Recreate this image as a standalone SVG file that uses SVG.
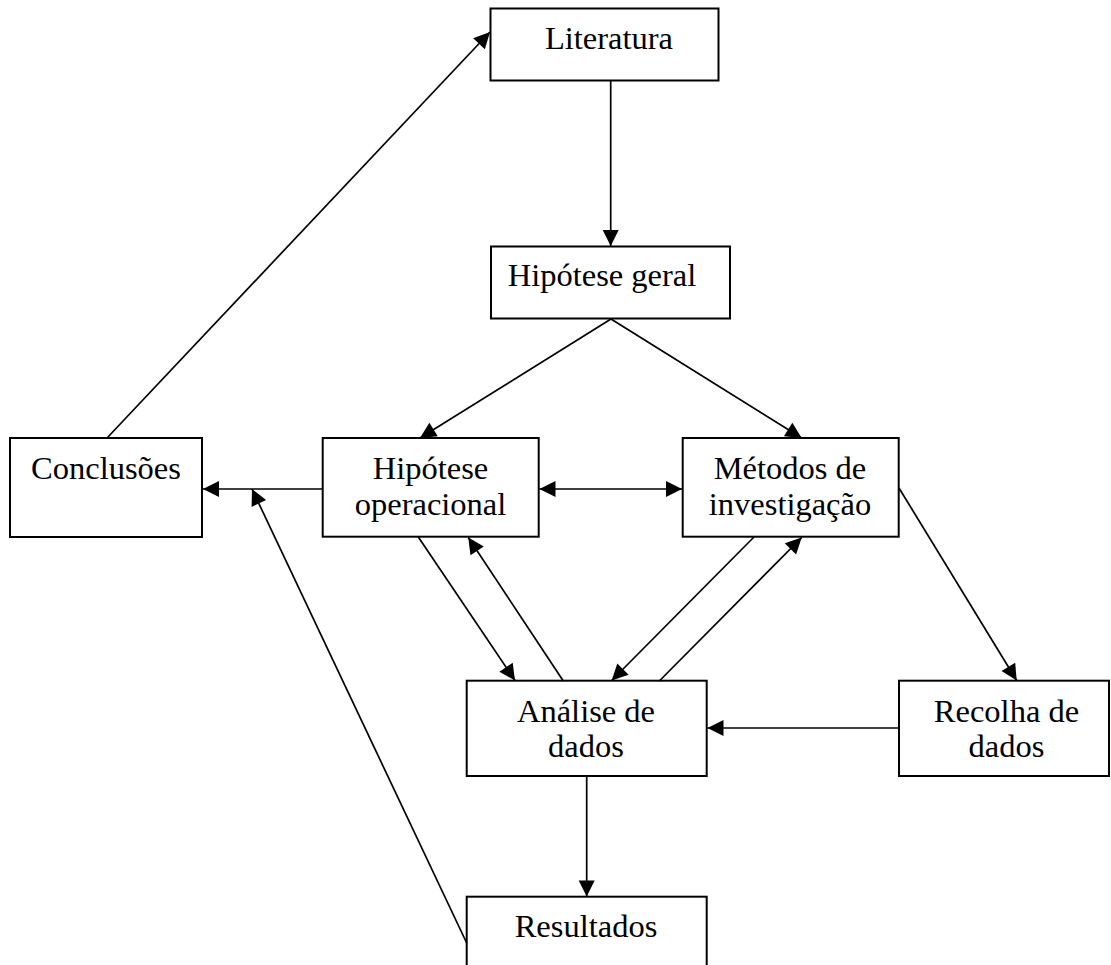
<svg xmlns="http://www.w3.org/2000/svg" width="1111" height="965" viewBox="0 0 1111 965">
<style>
.box{fill:#fff;stroke:#000;stroke-width:2}
.lbl{font-family:"Liberation Serif","Times New Roman",serif;font-size:32.5px;fill:#000;text-anchor:middle}
.c line{stroke:#000;stroke-width:1.7}
.a{marker-end:url(#ah)}
.b{marker-start:url(#ahs);marker-end:url(#ah)}
</style>
<defs>
<marker id="ah" markerUnits="userSpaceOnUse" markerWidth="18" markerHeight="18" refX="16" refY="8" orient="auto" overflow="visible">
<path d="M0,0 L16,8 L0,16 z" fill="#000"/>
</marker>
<marker id="ahs" markerUnits="userSpaceOnUse" markerWidth="18" markerHeight="18" refX="0" refY="8" orient="auto" overflow="visible">
<path d="M16,0 L0,8 L16,16 z" fill="#000"/>
</marker>
</defs>
<rect width="1111" height="965" fill="#fff"/>
<g id="literatura"><rect class="box" x="490.5" y="8.5" width="228" height="72"/><text class="lbl" x="609" y="49">Literatura</text></g>
<g id="hipotese-geral"><rect class="box" x="491" y="246.5" width="239" height="72"/><text class="lbl" x="602" y="286">Hipótese geral</text></g>
<g id="conclusoes"><rect class="box" x="10" y="438" width="192" height="99"/><text class="lbl" x="106" y="479">Conclusões</text></g>
<g id="hipotese-operacional"><rect class="box" x="322.7" y="438" width="216" height="98.7"/><text class="lbl" x="430.5" y="479">Hipótese</text><text class="lbl" x="430.5" y="515">operacional</text></g>
<g id="metodos"><rect class="box" x="682.7" y="438" width="216" height="98.7"/><text class="lbl" x="790" y="479">Métodos de</text><text class="lbl" x="790" y="515">investigação</text></g>
<g id="analise"><rect class="box" x="466.7" y="680.7" width="240" height="95.3"/><text class="lbl" x="586" y="722">Análise de</text><text class="lbl" x="586" y="757">dados</text></g>
<g id="recolha"><rect class="box" x="899" y="680.7" width="210" height="95.3"/><text class="lbl" x="1006.5" y="722">Recolha de</text><text class="lbl" x="1006.5" y="757">dados</text></g>
<g id="resultados"><rect class="box" x="466.7" y="896.7" width="240" height="80"/><text class="lbl" x="586" y="937">Resultados</text></g>
<g class="c" id="connectors">
<line class="a" x1="610.7" y1="80.5" x2="610.7" y2="246"/>
<line class="a" x1="611" y1="319" x2="420" y2="438"/>
<line class="a" x1="611" y1="319" x2="801.7" y2="438"/>
<line class="b" x1="539.5" y1="489" x2="682" y2="489"/>
<line class="a" x1="322.7" y1="489" x2="203" y2="489"/>
<line class="a" x1="466.7" y1="943" x2="252" y2="489"/>
<line class="a" x1="107" y1="438" x2="490" y2="32"/>
<line class="a" x1="418.3" y1="537" x2="515" y2="680.5"/>
<line class="a" x1="563.3" y1="681" x2="468.3" y2="537.5"/>
<line class="a" x1="754" y1="537" x2="611.7" y2="680.5"/>
<line class="a" x1="659.3" y1="681" x2="801.7" y2="537.5"/>
<line class="a" x1="899" y1="488" x2="1016.7" y2="680.5"/>
<line class="a" x1="899" y1="728" x2="707.5" y2="728"/>
<line class="a" x1="586.7" y1="776" x2="586.7" y2="896.5"/>
</g>
</svg>
